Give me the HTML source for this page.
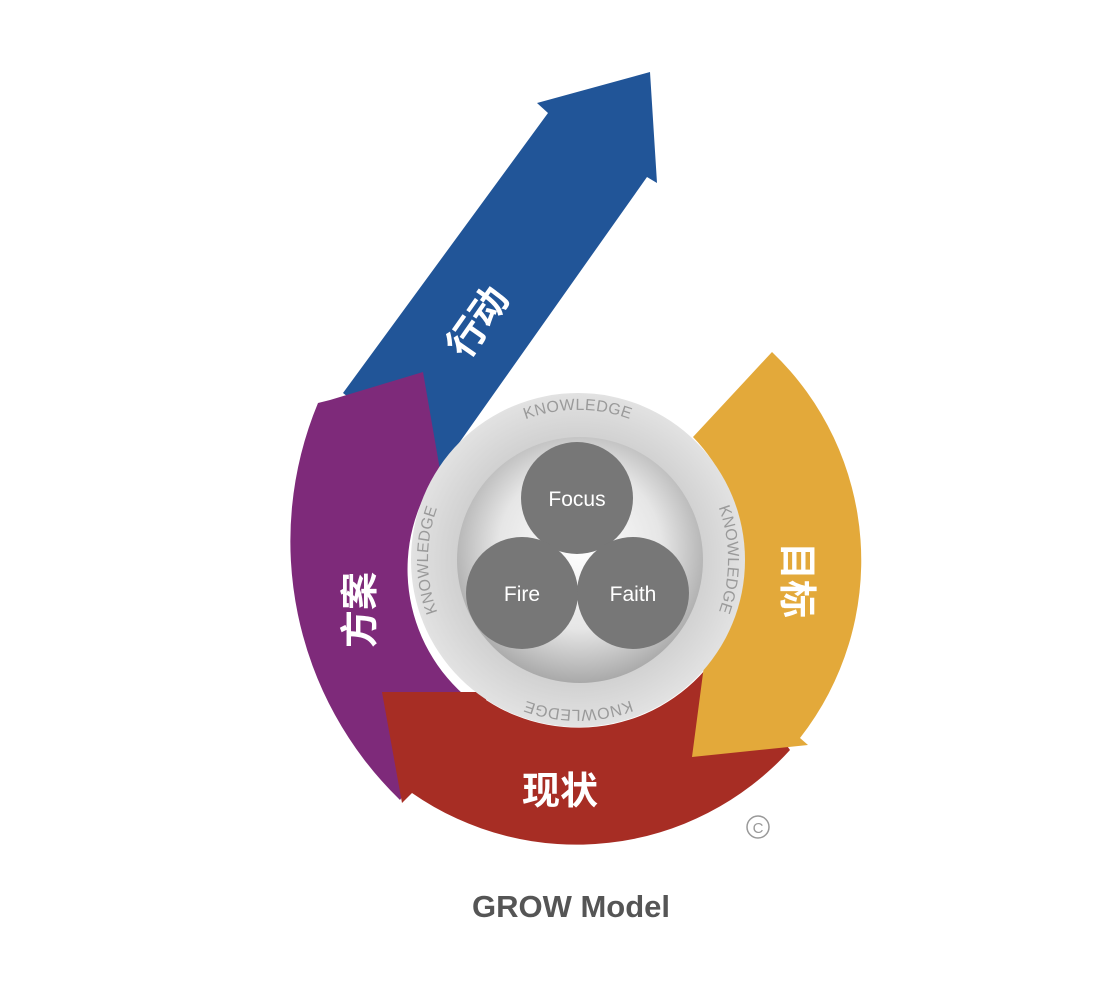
<!DOCTYPE html>
<html><head><meta charset="utf-8"><style>
html,body{margin:0;padding:0;background:#fff;}
svg{display:block;}
</style></head><body>
<svg width="1104" height="984" viewBox="0 0 1104 984" xmlns="http://www.w3.org/2000/svg">
<defs>
<radialGradient id="sph" cx="50%" cy="45%" r="55%">
<stop offset="0" stop-color="#ffffff"/>
<stop offset="0.6" stop-color="#e6e6e6"/>
<stop offset="1" stop-color="#a9a9a9"/>
</radialGradient>
<radialGradient id="ring" cx="50%" cy="50%" r="50%">
<stop offset="0.7" stop-color="#cfcfcf"/>
<stop offset="1" stop-color="#e2e2e2"/>
</radialGradient>
<path id="kp" d="M 472.1,666.1 A 150 150 0 1 1 683.9,666.1 A 150 150 0 0 1 472.1,666.1"/>
</defs>
<path d="M343,393 L548,113 L537,103 L650,72 L657,183 L647,177 L440,470 Z" fill="#215598"/>
<path d="M318,403 L330,400 L423,372 L440,470 A168 168 0 0 0 470,700 L400,800 A360 360 0 0 1 318,403 Z" fill="#7e2a7a"/>
<path d="M382,692 L490,692 L486,700 A168 168 0 0 0 720,650 L790,750 A288 288 0 0 1 412,793 L402,803 Z" fill="#a72d24"/>
<path d="M772,352 A288 288 0 0 1 800,738 L808,745 L692,757 L705,658 A168 168 0 0 0 693,437 Z" fill="#e3a93a"/>
<circle cx="578" cy="560" r="167" fill="url(#ring)"/>
<circle cx="580" cy="560" r="123" fill="url(#sph)"/>
<text font-family="Liberation Sans, sans-serif" font-size="16" fill="#9a9a9a" letter-spacing="0.3">
<textPath href="#kp" startOffset="12.5%" text-anchor="middle">KNOWLEDGE</textPath>
<textPath href="#kp" startOffset="37.5%" text-anchor="middle">KNOWLEDGE</textPath>
<textPath href="#kp" startOffset="62.5%" text-anchor="middle">KNOWLEDGE</textPath>
<textPath href="#kp" startOffset="87.5%" text-anchor="middle">KNOWLEDGE</textPath>
</text>
<circle cx="577" cy="498" r="56" fill="#777"/>
<circle cx="522" cy="593" r="56" fill="#777"/>
<circle cx="633" cy="593" r="56" fill="#777"/>
<g font-family="Liberation Sans, sans-serif" font-size="21" fill="#fff" text-anchor="middle">
<text x="577" y="506">Focus</text>
<text x="522" y="601">Fire</text>
<text x="633" y="601">Faith</text>
</g>
<g font-family="Liberation Sans, 'Noto Sans CJK SC', sans-serif" font-size="38" font-weight="bold" fill="#fff" text-anchor="middle">
<text transform="translate(478,322) rotate(-55)" y="13">行动</text>
<text transform="translate(360,610) rotate(-90)" y="13">方案</text>
<text transform="translate(797,580) rotate(90)" y="13">目标</text>
<text x="560" y="804">现状</text>
</g>
<circle cx="758" cy="827" r="11" fill="none" stroke="#999" stroke-width="1.5"/>
<text x="758" y="833" font-family="Liberation Sans, sans-serif" font-size="15" fill="#999" text-anchor="middle">C</text>
<text x="571" y="917" font-family="Liberation Sans, sans-serif" font-size="31" font-weight="bold" fill="#555" text-anchor="middle">GROW Model</text>
</svg>
</body></html>
